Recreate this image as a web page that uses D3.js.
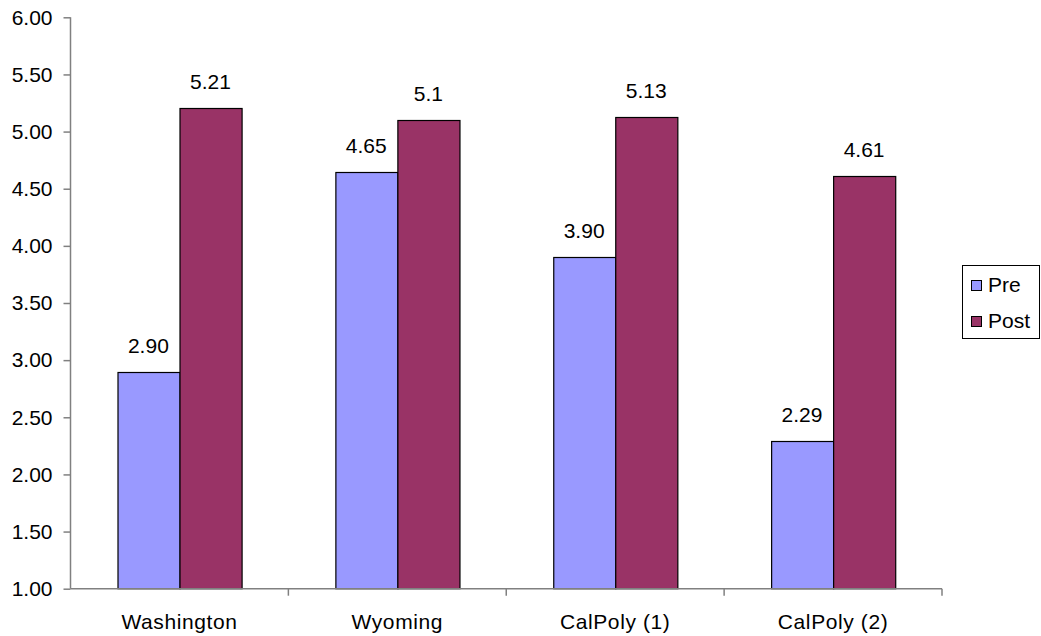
<!DOCTYPE html>
<html>
<head>
<meta charset="utf-8">
<script src="https://cdn.jsdelivr.net/npm/d3@7/dist/d3.min.js"></script>
<style>
  html, body { margin: 0; padding: 0; background: #fff; }
  svg text { font-family: "Liberation Sans", Arial, sans-serif; fill: #000; }
</style>
</head>
<body>
<svg id="chart" width="1041" height="636"></svg>
<script>
// Pre / post scores per site
const categories = ["Washington", "Wyoming", "CalPoly (1)", "CalPoly (2)"];
const seriesNames = ["Pre", "Post"];
const preValues = [2.90, 4.65, 3.90, 2.29];
const postValues = [5.21, 5.1, 5.13, 4.61];
const yTicks = [1.0, 1.5, 2.0, 2.5, 3.0, 3.5, 4.0, 4.5, 5.0, 5.5, 6.0];

const colors = { Pre: "#9999FF", Post: "#993366" };
const labelFormat = { Pre: d3.format(".2f"), Post: v => String(v) };

const svg = d3.select("#chart");
const plot = { left: 70.5, right: 942, top: 17.3, bottom: 588.7 };
const fontSize = 21;

const y = d3.scaleLinear().domain([1, 6]).range([plot.bottom, plot.top]);
const x0 = d3.scaleBand().domain(categories).range([plot.left, plot.right]).padding(0);
const bw = x0.bandwidth();
const groupW = bw * 0.57;
const x1 = d3.scaleBand().domain(seriesNames)
  .range([(bw - groupW) / 2, (bw + groupW) / 2]).padding(0);

const rows = categories.map((c, i) => ({
  category: c,
  values: [
    { key: "Pre", value: preValues[i] },
    { key: "Post", value: postValues[i] }
  ]
}));

// Bars
const groups = svg.append("g").selectAll("g")
  .data(rows).join("g")
  .attr("transform", d => `translate(${x0(d.category)},0)`);

groups.selectAll("rect")
  .data(d => d.values).join("rect")
  .attr("x", d => Math.round(x1(d.key)) + 0.5)
  .attr("y", d => Math.round(y(d.value)) + 0.5)
  .attr("width", x1.bandwidth())
  .attr("height", d => y(1) - Math.round(y(d.value)) - 0.5)
  .attr("fill", d => colors[d.key])
  .attr("stroke", "#000")
  .attr("stroke-width", 1.2);

// Value labels
groups.selectAll("text")
  .data(d => d.values).join("text")
  .attr("x", d => x1(d.key) + x1.bandwidth() / 2)
  .attr("y", d => y(d.value) - 19)
  .attr("text-anchor", "middle")
  .style("font-size", fontSize + "px")
  .text(d => labelFormat[d.key](d.value));

// Y axis
const yAxis = svg.append("g")
  .attr("transform", `translate(${plot.left},0)`)
  .call(d3.axisLeft(y).tickValues(yTicks).tickFormat(d3.format(".2f")).tickSize(7).tickPadding(11));
yAxis.select(".domain").attr("stroke", "#808080").attr("stroke-width", 1.5)
  .attr("d", `M0,${plot.top}V${plot.bottom}`);
yAxis.selectAll(".tick line").attr("stroke", "#808080").attr("stroke-width", 1.5);
yAxis.selectAll(".tick text")
  .style("font-size", fontSize + "px")
  .style("font-family", "'Liberation Sans', Arial, sans-serif")
  .attr("fill", "#000");

// X axis with ticks at category boundaries
const xAxis = svg.append("g")
  .attr("transform", `translate(0,${plot.bottom})`);
xAxis.append("line")
  .attr("x1", plot.left).attr("x2", plot.right)
  .attr("stroke", "#808080").attr("stroke-width", 1.5);
xAxis.selectAll("line.tick")
  .data(categories).join("line")
  .attr("class", "tick")
  .attr("x1", d => x0(d) + bw).attr("x2", d => x0(d) + bw)
  .attr("y1", 0).attr("y2", 7)
  .attr("stroke", "#808080").attr("stroke-width", 1.5);
xAxis.selectAll("text")
  .data(categories).join("text")
  .attr("x", d => x0(d) + bw / 2)
  .attr("y", 40)
  .attr("text-anchor", "middle")
  .style("font-size", fontSize + "px")
  .style("letter-spacing", "0.6px")
  .text(d => d);

// Legend
const legend = svg.append("g");
legend.append("rect")
  .attr("x", 962.5).attr("y", 265.5)
  .attr("width", 77).attr("height", 73)
  .attr("fill", "#fff").attr("stroke", "#000").attr("stroke-width", 1);
const items = legend.selectAll("g.item")
  .data(seriesNames).join("g")
  .attr("class", "item")
  .attr("transform", (d, i) => `translate(0,${i * 36})`);
items.append("rect")
  .attr("x", 971.5).attr("y", 280.5)
  .attr("width", 10).attr("height", 10)
  .attr("fill", d => colors[d]).attr("stroke", "#000").attr("stroke-width", 1);
items.append("text")
  .attr("x", 988).attr("y", 292)
  .style("font-size", fontSize + "px")
  .text(d => d);
</script>
</body>
</html>
